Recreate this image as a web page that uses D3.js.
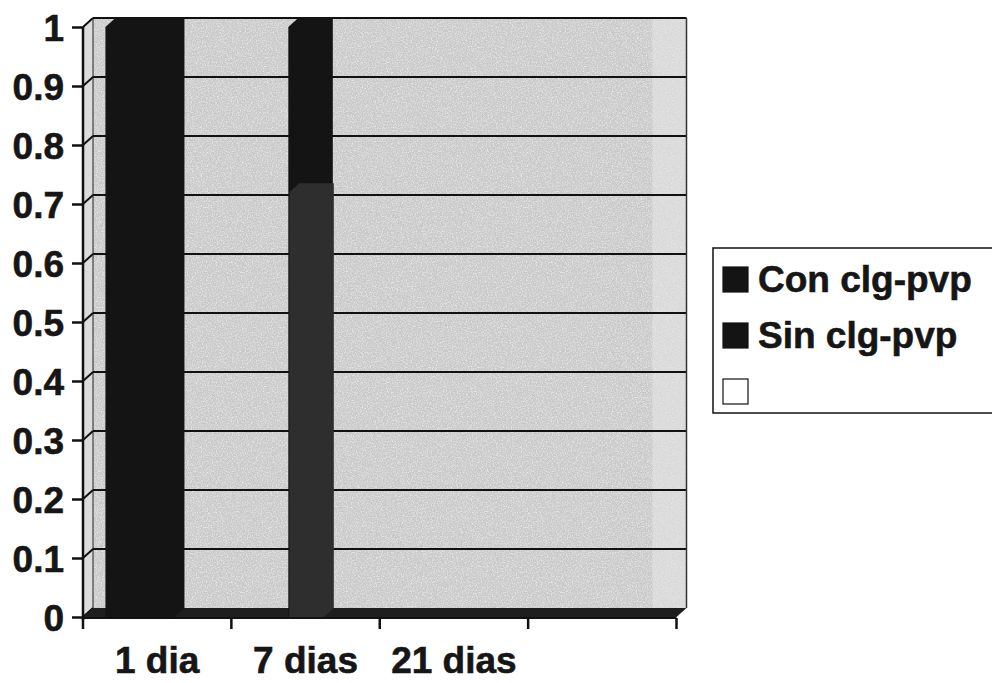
<!DOCTYPE html>
<html>
<head>
<meta charset="utf-8">
<script src="https://cdnjs.cloudflare.com/ajax/libs/d3/7.8.5/d3.min.js"></script>
<style>
body { margin: 0; background: #fff; }
text { font-family: 'Liberation Sans', Arial, sans-serif; font-weight: bold; fill: #161616; stroke: #161616; stroke-width: 0.6px; }
</style>
</head>
<body>
<div id="chart-area"></div>
<script>
var categories = ['1 dia', '7 dias', '21 dias', '']
var seriesNames = ['Con clg-pvp', 'Sin clg-pvp', '']
var conValues = [1, 0, 0, 0]
var sinValues = [1, 1, 0, 0]
// lower, lighter block standing in front of the Sin column
var frontValues = [0, 0.72, 0, 0]
var yTicks = [0, 0.1, 0.2, 0.3, 0.4, 0.5, 0.6, 0.7, 0.8, 0.9, 1]
var tickLabels = ['0', '0.1', '0.2', '0.3', '0.4', '0.5', '0.6', '0.7', '0.8', '0.9', '1']

var colors = { con: '#141414', sin: '#141414', front: '#2e2e2e' }

var width = 992
var height = 683
var depth = { dx: 10, dy: -9 }

var svg = d3.select('#chart-area').append('svg')
    .attr('width', width)
    .attr('height', height)

var x = d3.scaleBand().domain(categories).range([83, 676.5]).padding(0)
var y = d3.scaleLinear().domain([0, 1]).range([617, 27])
var slot = d3.scaleBand().domain(seriesNames).range([0, x.bandwidth()]).paddingInner(0).paddingOuter(0.65)

// speckled paper look for the walls
var defs = svg.append('defs')
var f = defs.append('filter').attr('id', 'grain').attr('x', 0).attr('y', 0).attr('width', 1).attr('height', 1)
f.append('feTurbulence').attr('type', 'fractalNoise').attr('baseFrequency', 0.8).attr('numOctaves', 2).attr('seed', 3).attr('result', 'n')
f.append('feColorMatrix').attr('in', 'n').attr('type', 'matrix')
    .attr('values', '0 0 0 0 1  0 0 0 0 1  0 0 0 0 1  0 0 0 1.3 -0.55').attr('result', 'a')
f.append('feComposite').attr('in', 'a').attr('in2', 'SourceGraphic').attr('operator', 'in').attr('result', 'dots')
f.append('feMerge').selectAll('feMergeNode').data(['SourceGraphic', 'dots']).enter()
    .append('feMergeNode').attr('in', d => d)

var x0 = x.range()[0], x1 = x.range()[1]
var yb = y(0), yt = y(1)

var g = svg.append('g')

// back wall
g.append('rect')
    .attr('x', x0 + depth.dx).attr('y', yt + depth.dy)
    .attr('width', x1 - x0).attr('height', yb - yt)
    .attr('fill', '#c9c9c9')
    .attr('filter', 'url(#grain)')
g.append('rect')
    .attr('x', x1 - 24).attr('y', yt + depth.dy)
    .attr('width', 34).attr('height', yb - yt)
    .attr('fill', '#e4e4e4').attr('opacity', 0.6)

// side wall
g.append('polygon')
    .attr('points', [[x0, yt], [x0 + depth.dx, yt + depth.dy], [x0 + depth.dx, yb + depth.dy], [x0, yb]].join(' '))
    .attr('fill', '#dcdcdc')
    .attr('stroke', '#222').attr('stroke-width', 1)

// gridlines
g.selectAll('.grid').data(yTicks.slice(1)).enter().append('line')
    .attr('class', 'grid')
    .attr('x1', x0 + depth.dx).attr('x2', x1 + depth.dx)
    .attr('y1', d => y(d) + depth.dy).attr('y2', d => y(d) + depth.dy)
    .attr('stroke', '#111').attr('stroke-width', 2)
g.selectAll('.slant').data(yTicks).enter().append('line')
    .attr('class', 'slant')
    .attr('x1', x0).attr('x2', x0 + depth.dx)
    .attr('y1', d => y(d)).attr('y2', d => y(d) + depth.dy)
    .attr('stroke', '#111').attr('stroke-width', 2)
g.append('line')
    .attr('x1', x1 + depth.dx).attr('x2', x1 + depth.dx)
    .attr('y1', yt + depth.dy).attr('y2', yb + depth.dy)
    .attr('stroke', '#333').attr('stroke-width', 1.5)

// floor
g.append('polygon')
    .attr('points', [[x0, yb], [x1, yb], [x1 + depth.dx, yb + depth.dy], [x0 + depth.dx, yb + depth.dy]].join(' '))
    .attr('fill', '#1e1e1e')

function column(left, w, v) {
    var top = y(v)
    return [[left, yb], [left, top], [left + depth.dx, top + depth.dy], [left + w + depth.dx, top + depth.dy],
        [left + w + depth.dx, yb + depth.dy], [left + w, yb]].join(' ')
}

var bars = []
categories.forEach((c, i) => {
    bars.push({ cat: c, s: seriesNames[0], v: conValues[i], fill: colors.con })
    bars.push({ cat: c, s: seriesNames[1], v: sinValues[i], fill: colors.sin })
    bars.push({ cat: c, s: seriesNames[1], v: frontValues[i], fill: colors.front, shift: 1 })
})

g.selectAll('.bar').data(bars.filter(d => d.v > 0)).enter().append('polygon')
    .attr('class', 'bar')
    .attr('points', d => column(x(d.cat) + slot(d.s) + (d.shift || 0), slot.bandwidth(), d.v))
    .attr('fill', d => d.fill)

// axes
var yAxis = svg.append('g').attr('transform', `translate(${x0}, 0)`)
    .call(d3.axisLeft(y).tickValues(yTicks).tickFormat((d, i) => tickLabels[i]).tickSize(11).tickPadding(8))
yAxis.select('.domain').attr('stroke', '#111').attr('stroke-width', 2.5).attr('d', `M0,${yt}V${yb + 3}`)
yAxis.selectAll('.tick line').attr('stroke', '#111').attr('stroke-width', 2.5)
yAxis.selectAll('.tick text').attr('font-size', '37px').attr('fill', '#161616').attr('dy', '0.36em')
    .attr('font-family', "'Liberation Sans', Arial, sans-serif").attr('font-weight', 'bold')

var xAxisLine = svg.append('g').attr('transform', `translate(0, ${yb + 1})`)
xAxisLine.append('line').attr('x1', x0).attr('x2', x1).attr('stroke', '#111').attr('stroke-width', 2)
xAxisLine.selectAll('.xt').data(categories.map(c => x(c)).concat([x1])).enter().append('line')
    .attr('class', 'xt')
    .attr('x1', d => d).attr('x2', d => d).attr('y1', 0).attr('y2', 11)
    .attr('stroke', '#111').attr('stroke-width', 2.5)

svg.selectAll('.xlabel').data(categories).enter().append('text')
    .attr('class', 'xlabel')
    .attr('x', d => x(d) + x.bandwidth() / 2)
    .attr('y', 673)
    .attr('text-anchor', 'middle')
    .attr('font-size', '37px')
    .text(d => d)

// legend
var legend = svg.append('g').attr('transform', 'translate(713, 248)')
legend.append('rect')
    .attr('width', 300).attr('height', 165)
    .attr('fill', '#fff').attr('stroke', '#111').attr('stroke-width', 1.5)
var legendFills = [colors.con, colors.sin, '#fff']
var item = legend.selectAll('.item').data(seriesNames).enter().append('g')
    .attr('class', 'item')
    .attr('transform', (d, i) => `translate(10, ${19 + i * 56})`)
item.append('rect')
    .attr('width', 25).attr('height', 25)
    .attr('fill', (d, i) => legendFills[i])
    .attr('stroke', '#111').attr('stroke-width', 1.2)
item.append('text')
    .attr('x', 35).attr('y', 25)
    .attr('font-size', '37px')
    .text(d => d)
</script>
</body>
</html>
